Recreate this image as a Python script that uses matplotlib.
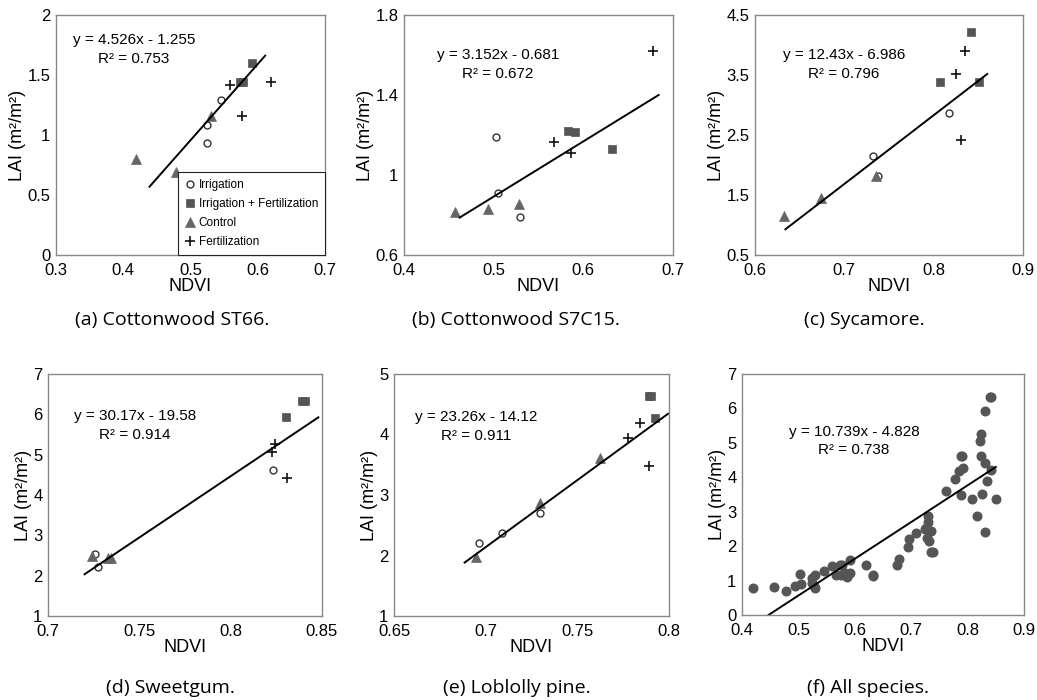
import numpy as np
import matplotlib
matplotlib.use("Agg")
import matplotlib.pyplot as plt
from matplotlib.ticker import FormatStrFormatter, MultipleLocator

plt.rcParams['font.family'] = ['Liberation Sans', 'DejaVu Sans']

# ---- data (NDVI, LAI) ----
# (a) Cottonwood ST66
a_irr_x, a_irr_y = [0.524, 0.524, 0.546], [1.083, 0.936, 1.29]
a_if_x, a_if_y = [0.592, 0.574, 0.578], [1.597, 1.439, 1.439]
a_ctl_x, a_ctl_y = [0.419, 0.478, 0.530], [0.797, 0.694, 1.161]
a_fer_x, a_fer_y = [0.559, 0.619, 0.576], [1.417, 1.439, 1.158]
a_fit_x, a_fit_y = [0.439, 0.611], [0.569, 1.661]

# (b) Cottonwood S7C15
b_irr_x, b_irr_y = [0.503, 0.5045, 0.529], [1.188, 0.908, 0.792]
b_if_x, b_if_y = [0.583, 0.591, 0.632], [1.222, 1.213, 1.13]
b_ctl_x, b_ctl_y = [0.457, 0.494, 0.528], [0.813, 0.83, 0.853]
b_fer_x, b_fer_y = [0.567, 0.586, 0.678], [1.167, 1.108, 1.622]
b_fit_x, b_fit_y = [0.462, 0.684], [0.787, 1.40]

# (c) Sycamore
c_irr_x, c_irr_y = [0.732, 0.738, 0.817], [2.15, 1.817, 2.861]
c_if_x, c_if_y = [0.8415, 0.8076, 0.8512], [4.222, 3.383, 3.383]
c_ctl_x, c_ctl_y = [0.632, 0.674, 0.735], [1.15, 1.45, 1.822]
c_fer_x, c_fer_y = [0.835, 0.8255, 0.8303], [3.906, 3.517, 2.417]
c_fit_x, c_fit_y = [0.634, 0.860], [0.928, 3.517]

# (d) Sweetgum
d_irr_x, d_irr_y = [0.8232, 0.7255, 0.7272], [4.63, 2.53, 2.225]
d_if_x, d_if_y = [0.839, 0.8409, 0.8305], [6.34, 6.325, 5.93]
d_ctl_x, d_ctl_y = [0.724, 0.7327, 0.7347], [2.49, 2.43, 2.43]
d_fer_x, d_fer_y = [0.8241, 0.8226, 0.8308], [5.27, 5.06, 4.42]
d_fit_x, d_fit_y = [0.720, 0.848], [2.035, 5.925]

# (e) Loblolly pine
e_irr_x, e_irr_y = [0.7295, 0.709, 0.6962], [2.70, 2.37, 2.21]
e_if_x, e_if_y = [0.789, 0.790, 0.7922], [4.63, 4.63, 4.27]
e_ctl_x, e_ctl_y = [0.7625, 0.7296, 0.6945], [3.61, 2.876, 1.97]
e_fer_x, e_fer_y = [0.7842, 0.7776, 0.7889], [4.19, 3.94, 3.48]
e_fit_x, e_fit_y = [0.6885, 0.7995], [1.883, 4.343]

# (f) all species: pooled points of (a)-(e)
f_fit_x, f_fit_y = [0.447, 0.850], [0.0, 4.30]

equations = ["y = 4.526x - 1.255\nR² = 0.753",
             "y = 3.152x - 0.681\nR² = 0.672",
             "y = 12.43x - 6.986\nR² = 0.796",
             "y = 30.17x - 19.58\nR² = 0.914",
             "y = 23.26x - 14.12\nR² = 0.911",
             "y = 10.739x - 4.828\nR² = 0.738"]
captions = ["(a) Cottonwood ST66.", "(b) Cottonwood S7C15.", "(c) Sycamore.",
            "(d) Sweetgum.", "(e) Loblolly pine.", "(f) All species."]
treatments = ["Irrigation", "Irrigation + Fertilization", "Control", "Fertilization"]

groups = [
    [(a_irr_x, a_irr_y), (a_if_x, a_if_y), (a_ctl_x, a_ctl_y), (a_fer_x, a_fer_y)],
    [(b_irr_x, b_irr_y), (b_if_x, b_if_y), (b_ctl_x, b_ctl_y), (b_fer_x, b_fer_y)],
    [(c_irr_x, c_irr_y), (c_if_x, c_if_y), (c_ctl_x, c_ctl_y), (c_fer_x, c_fer_y)],
    [(d_irr_x, d_irr_y), (d_if_x, d_if_y), (d_ctl_x, d_ctl_y), (d_fer_x, d_fer_y)],
    [(e_irr_x, e_irr_y), (e_if_x, e_if_y), (e_ctl_x, e_ctl_y), (e_fer_x, e_fer_y)],
]
fits = [(a_fit_x, a_fit_y), (b_fit_x, b_fit_y), (c_fit_x, c_fit_y),
        (d_fit_x, d_fit_y), (e_fit_x, e_fit_y), (f_fit_x, f_fit_y)]

xlims = [(0.3, 0.7, 0.1), (0.4, 0.7, 0.1), (0.6, 0.9, 0.1),
         (0.7, 0.85, 0.05), (0.65, 0.8, 0.05), (0.4, 0.9, 0.1)]
ylims = [(0, 2, 0.5), (0.6, 1.8, 0.4), (0.5, 4.5, 1.0),
         (1, 7, 1), (1, 5, 1), (0, 7, 1)]

# ---- layout (pixels of the 1037x700 canvas) ----
W, H = 1037, 700
boxes = [(56, 325, 15, 255), (404, 673, 15, 255), (755, 1023, 15, 255),
         (48, 322, 374, 616), (394, 669, 374, 616), (742, 1024, 374, 615)]
eq_pos = [(0.29, 0.855), (0.349, 0.794), (0.332, 0.794),
          (0.318, 0.787), (0.298, 0.785), (0.397, 0.722)]
cap_pos = [(172, 320), (516, 320), (864, 320), (170, 688), (517, 688), (868, 688)]

styles = [dict(marker='o', mfc='white', mec='#333333', ms=5, mew=1.0),
          dict(marker='s', mfc='#555555', mec='#555555', ms=5.5, mew=0.5),
          dict(marker='^', mfc='#666666', mec='#666666', ms=6.5, mew=0.5),
          dict(marker='+', mfc='none', mec='#111111', ms=7.5, mew=1.2)]

fig = plt.figure(figsize=(W / 100, H / 100), dpi=100)

for i in range(6):
    x0, x1, y0, y1 = boxes[i]
    ax = fig.add_axes([x0 / W, 1 - y1 / H, (x1 - x0) / W, (y1 - y0) / H])

    if i < 5:
        for (gx, gy), st, lab in zip(groups[i], styles, treatments):
            ax.plot(gx, gy, ls='none', label=lab, **st)
    else:
        allx = np.concatenate([np.asarray(g[0]) for grp in groups for g in grp])
        ally = np.concatenate([np.asarray(g[1]) for grp in groups for g in grp])
        ax.plot(allx, ally, ls='none', marker='o', ms=6.2, mfc='#555555', mec='#555555')

    fx, fy = fits[i]
    ax.plot(fx, fy, color='black', lw=1.4)

    lo, hi, step = xlims[i]
    ax.set_xlim(lo, hi)
    ax.xaxis.set_major_locator(MultipleLocator(step))
    lo, hi, step = ylims[i]
    ax.set_ylim(lo, hi)
    ax.set_yticks(np.arange(lo, hi + step / 2, step))
    ax.xaxis.set_major_formatter(FormatStrFormatter('%g'))
    ax.yaxis.set_major_formatter(FormatStrFormatter('%g'))
    ax.tick_params(length=0, labelsize=12)
    ax.tick_params(axis='x', pad=6)
    ax.tick_params(axis='y', pad=4)

    for sp in ax.spines.values():
        sp.set_color('#888888')
        sp.set_linewidth(1.0)

    ax.set_xlabel('NDVI', fontsize=13, labelpad=0)
    ax.set_ylabel('LAI (m²/m²)', fontsize=13, labelpad=1)

    ax.text(eq_pos[i][0], eq_pos[i][1], equations[i], transform=ax.transAxes,
            ha='center', va='center', fontsize=11, linespacing=1.45)

    if i == 0:
        leg = ax.legend(loc='lower right', borderaxespad=0, fontsize=8.5,
                        handlelength=0.8, handletextpad=0.3, labelspacing=0.6,
                        fancybox=False, framealpha=1, borderpad=0.6)
        leg.get_frame().set_edgecolor('#222222')
        leg.get_frame().set_linewidth(0.8)

    cx, cy = cap_pos[i]
    fig.text(cx / W, 1 - cy / H, captions[i], ha='center', va='center',
             fontsize=14, family=['Open Sans', 'DejaVu Sans'])

fig.savefig('out.png', dpi=100)
